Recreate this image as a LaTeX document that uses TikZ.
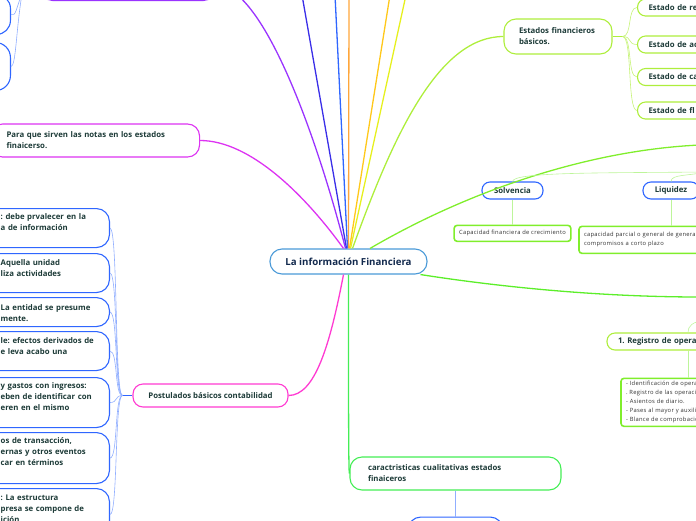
\documentclass[tikz,border=0pt]{standalone}
\usepackage{fontspec}
\setmainfont{Open Sans}
\newfontfamily\chica[LetterSpace=5]{Open Sans}
\usetikzlibrary{positioning}
\frenchspacing

\definecolor{txt}{HTML}{1D3B38}
\definecolor{navy}{HTML}{12294D}
\definecolor{skyb}{HTML}{4A9AD8}
\definecolor{azul}{HTML}{2F66FF}
\definecolor{azulosc}{HTML}{3A2EE8}
\definecolor{violeta}{HTML}{9A33FF}
\definecolor{fucsia}{HTML}{DD33F2}
\definecolor{rosa}{HTML}{FF3BD2}
\definecolor{naranja}{HTML}{FFA63A}
\definecolor{oro}{HTML}{FFC81A}
\definecolor{amarillo}{HTML}{E6F01E}
\definecolor{lima}{HTML}{AEEE3C}
\definecolor{verde}{HTML}{80EE2C}
\definecolor{verdeb}{HTML}{5CEE2A}
\definecolor{verdec}{HTML}{44EE55}
\definecolor{verdet}{HTML}{BDF59A}
\definecolor{azult}{HTML}{90AEFF}

\tikzset{
  tema/.style={draw, line width=1.1pt, fill=white, text=txt, inner sep=0pt,
    font=\bfseries\fontsize{7.8}{11}\selectfont},
  nota/.style={draw, line width=1.6pt, fill=white, rounded corners=3pt, text=black!80,
    inner sep=0pt, inner xsep=5pt, align=left, font=\chica\fontsize{5.8}{9}\selectfont},
  frag/.style={text=txt, inner sep=0pt, anchor=base west, text width=105pt, align=left,
    font=\bfseries\fontsize{7.8}{11}\selectfont},
  rama/.style={line width=1.3pt},
  hilo/.style={line width=0.6pt},
}

\begin{document}
\begin{tikzpicture}[x=1pt,y=-1pt]
\useasboundingbox (0,0) rectangle (696,520);
\clip (0,0) rectangle (696,520);

% nodo central
\node[tema, draw=skyb, text=navy, rounded corners=12pt, minimum width=157pt, minimum height=25pt,
  font=\bfseries\fontsize{9.7}{11}\selectfont] (info) at (348.5,261.5) {La información Financiera};

% ramas de arriba a la izquierda
\node[tema, draw=violeta, rounded corners=12pt, anchor=south west, minimum width=175pt, minimum height=30pt] (arriba) at (40,1) {};
\node[tema, draw=azul, rounded corners=14pt, anchor=south east, minimum width=80pt, minimum height=40pt] (lta) at (11,35) {};
\node[tema, draw=azul, rounded corners=15pt, anchor=north east, minimum width=80pt, minimum height=48pt] (ltb) at (11,42) {};
\coordinate (lt) at (22,-6);

\node[tema, draw=fucsia, rounded corners=12pt, anchor=west, minimum height=33pt, inner xsep=16pt,
  text width=177pt, align=left] (para) at (-10,140.5) {Para que sirven las notas en los estados\\finaicerso.};

% postulados
\node[tema, draw=rosa, rounded corners=10pt, minimum width=155pt, minimum height=23pt] (post) at (210.5,395.5) {Postulados básicos contabilidad};
\foreach \n/\ya/\yb in {1/208/247, 2/253/292, 3/297/326, 4/331/370, 5/377/427, 6/432/483, 7/488/540} {
  \node[tema, draw=azul, rounded corners=13pt, anchor=north east, minimum width=140pt, minimum height={\yb-\ya}] (pb\n) at (110,\ya) {};
}
\node[frag] (tx1) at (0.5,219) {: debe prvalecer en la\\a de información};
\node[frag] (tx2) at (0.5,265) {Aquella unidad\\liza actividades};
\node[frag] (tx3) at (0.5,310) {La entidad se presume\\mente.};
\node[frag] (tx4) at (0.5,343) {le: efectos derivados de\\e leva acabo una};
\node[frag] (tx5) at (0.5,388) {y gastos con ingresos:\\eben de identificar con\\eren en el mismo};
\node[frag] (tx6) at (0.5,443) {os de transacción,\\ernas y otros eventos\\car en términos};
\node[frag] (tx7) at (0.5,500) {: La estructura\\presa se compone de\\ición};

% estados financieros
\node[tema, draw=lima, rounded corners=12pt, minimum height=35pt, inner xsep=15pt, text width=78pt,
  align=left] (estados) at (558,36.5) {Estados financieros\\básicos.};
\foreach \n/\y/\t in {1/7.5/Estado de re, 2/44.5/Estado de ac, 3/77/Estado de ca, 4/110.5/Estado de fl} {
  \node[tema, draw=lima, rounded corners=8pt, anchor=west, minimum height=17pt, inner xsep=11pt,
    text width=90pt, align=left] (ef\n) at (637,\y) {\t};
}

% razones
\node[tema, draw=azul, rounded corners=8pt, minimum width=61pt, minimum height=17pt] (solv) at (512.5,190.5) {Solvencia};
\node[nota, draw=verde, minimum width=112pt, minimum height=16pt, below=25pt of solv] (capcre) {Capacidad financiera de crecimiento};
\node[tema, draw=azul, rounded corners=8pt, minimum width=56pt, minimum height=17pt] (liq) at (671,190.5) {Liquidez};
\node[nota, draw=verde, minimum height=27pt, text width=174pt, below=26pt of liq] (liqtxt) {capacidad parcial o general de generar e\\compromisos a corto plazo};
\coordinate (rz) at (705,172);
\coordinate (razon) at (700,145);

% ciclo contable
\node[tema, draw=lima, rounded corners=8pt, minimum height=17pt, inner xsep=11pt, text width=140pt,
  align=left] (reg) at (688,341.5) {1. Registro de opera};
\node[nota, draw=verde, minimum height=48pt, text width=124pt, below=27pt of reg] (regtxt) {- Identificación de operac\\. Registro de las operacio\\- Asientos de diario.\\- Pases al mayor y auxilia\\- Blance de comprobación};
\coordinate (op) at (705,320);
\coordinate (proc) at (700,297);

% caracteristicas
\node[tema, draw=verdec, rounded corners=12pt, minimum height=33pt, inner xsep=18pt, text width=175pt,
  align=left] (caract) at (455.5,473.5) {caractristicas cualitativas estados\\finaiceros};
\node[tema, draw=azul, rounded corners=12pt, minimum width=94pt, minimum height=30pt, below=26pt of caract] (cbox) {};

% ramas del nodo central
\draw[rama, violeta] ([xshift=-3pt]info.north) .. controls (315,130) and (262,-14) .. (arriba.east);
\foreach \c/\x/\s in {azulosc/302/-2, azul/335/-1, naranja/349/0, oro/390/1, amarillo/406/2} {
  \coordinate (haz\x) at (\x,-5);
  \draw[rama, \c] ([xshift=\s pt]info.north) -- (haz\x);
}
\draw[rama, fucsia] ([xshift=-5pt]info.north) .. controls (305,195) and (250,140.5) .. (para.east);
\draw[rama, lima] ([xshift=4pt]info.north) .. controls (395,130) and (440,36.5) .. (estados.west);
\draw[rama, verde] ([xshift=21.5pt]info.north) .. controls (470,190) and (590,150) .. (razon);
\draw[rama, verdeb] ([xshift=72pt]info.south) .. controls (500,287) and (600,297) .. (proc);
\draw[rama, verdec] (info.south) .. controls (348.5,400) and (348.5,473.5) .. (caract.west);
\draw[rama, rosa] ([xshift=-5pt]info.south) .. controls (330,345) and (315,395.5) .. (post.east);

% hijos
\draw[rama, azul] (post.west) -- ++(-10,0) coordinate (abanico);
\foreach \n in {1,...,7}
  \draw[hilo, azult] (abanico) to[out=180, in=0, distance=8pt] (pb\n.east);
\draw[hilo, azult] (lt) .. controls (16,8) and (16,17) .. (lta.east);
\draw[hilo, azult] (lt) .. controls (16,30) and (16,66) .. (ltb.east);
\draw[rama, lima] (estados.east) -- ++(10,0) coordinate (efs);
\foreach \n in {1,...,4}
  \draw[hilo, lima!70] (efs) to[out=0, in=180, distance=10pt] (ef\n.west);
\draw[hilo, verdet] (rz) .. controls (600,173) and (513,172) .. (solv.north);
\draw[hilo, verdet] (rz) .. controls (690,176) and (671,174) .. (liq.north);
\draw[hilo, verdet] (solv.south) -- (capcre.north);
\draw[hilo, verdet] (liq.south) -- (liqtxt.north);
\draw[hilo, verdet] (op) .. controls (692,322) and (688,326) .. (reg.north);
\draw[hilo, verdet] (reg.south) -- (regtxt.north);
\draw[hilo, azult] (caract.south) -- (cbox.north);
\end{tikzpicture}
\end{document}
